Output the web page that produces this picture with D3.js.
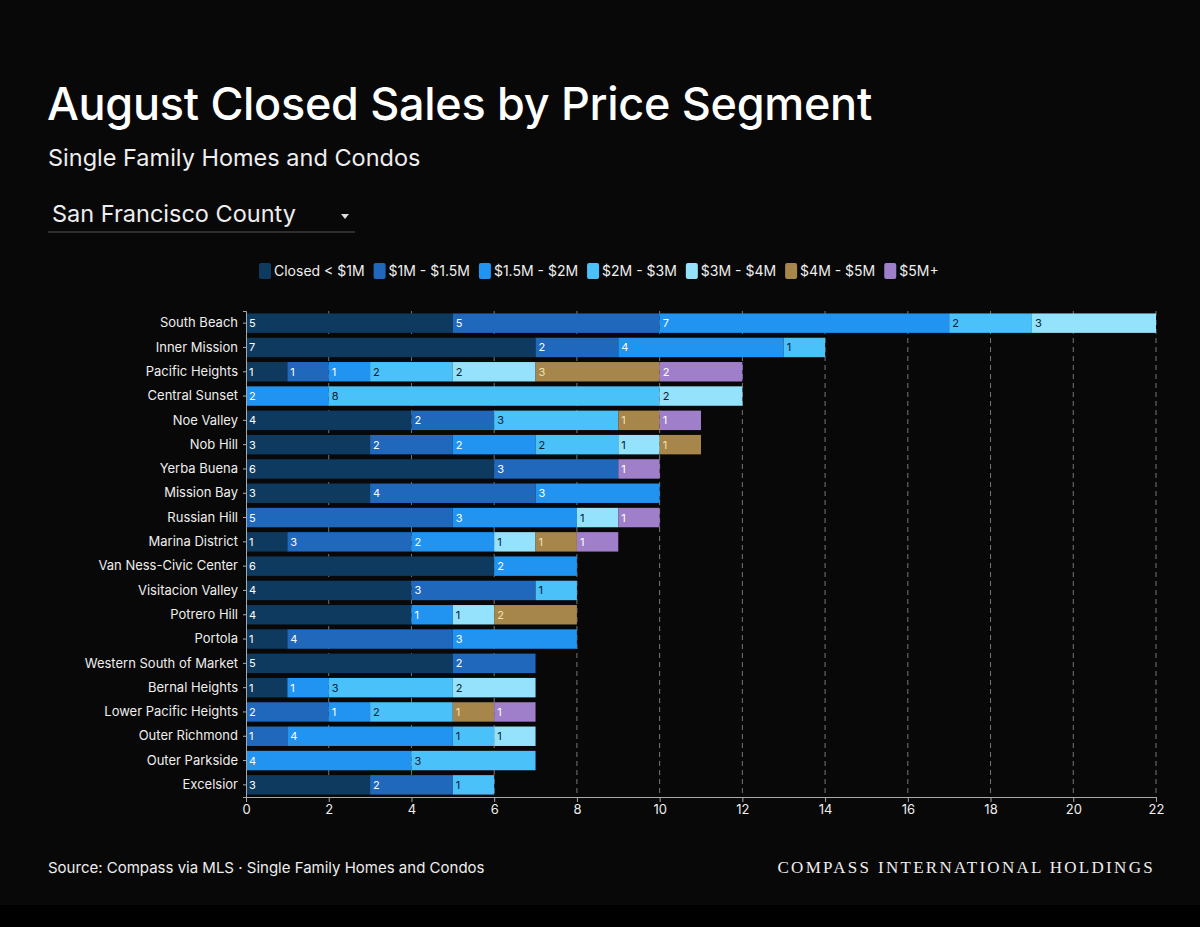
<!DOCTYPE html>
<html><head><meta charset="utf-8">
<script src="https://cdn.jsdelivr.net/npm/d3@7"></script>
<style>body{margin:0;background:#070707;}svg{display:block;font-family:Inter,'Noto Sans',sans-serif;}</style>
</head><body><svg id="c" width="1200" height="927"></svg>
<script>
const segments=["Closed < $1M","$1M - $1.5M","$1.5M - $2M","$2M - $3M","$3M - $4M","$4M - $5M","$5M+"];
const colors=["#0e3a5f","#1f68bb","#2193f0","#4bc1fa","#94e2fb","#a6864a","#a07fca"];
const neighborhoods=["South Beach","Inner Mission","Pacific Heights","Central Sunset","Noe Valley","Nob Hill","Yerba Buena","Mission Bay","Russian Hill","Marina District","Van Ness-Civic Center","Visitacion Valley","Potrero Hill","Portola","Western South of Market","Bernal Heights","Lower Pacific Heights","Outer Richmond","Outer Parkside","Excelsior"];
// values per segment, in neighborhood order
const closedUnder1M=[5,7,1,0,4,3,6,3,0,1,6,4,4,1,5,1,0,0,0,3];
const s1to15M=[5,2,1,0,2,2,3,4,5,3,0,3,0,4,2,0,2,1,0,2];
const s15to2M=[7,4,1,2,0,2,0,3,3,2,2,0,1,3,0,1,1,4,4,0];
const s2to3M=[2,1,2,8,3,2,0,0,0,0,0,1,0,0,0,3,2,1,3,1];
const s3to4M=[3,0,2,2,0,1,0,0,1,1,0,0,1,0,0,2,0,1,0,0];
const s4to5M=[0,0,3,0,1,1,0,0,0,1,0,0,2,0,0,0,1,0,0,0];
const s5Mplus=[0,0,2,0,1,0,1,0,1,1,0,0,0,0,0,0,1,0,0,0];
const xTicks=[0,2,4,6,8,10,12,14,16,18,20,22];
const series=[closedUnder1M,s1to15M,s15to2M,s2to3M,s3to4M,s4to5M,s5Mplus];

const svg=d3.select("#c");
svg.append("rect").attr("width",1200).attr("height",927).attr("fill","#080808");
svg.append("rect").attr("y",905).attr("width",1200).attr("height",22).attr("fill","#000");
svg.append("text").attr("x",47).attr("y",120).attr("fill","#fff").attr("font-size",45).attr("font-weight",500).attr("letter-spacing",-0.3).text("August Closed Sales by Price Segment");
svg.append("text").attr("x",48).attr("y",166).attr("fill","#eee").attr("font-size",23.5).text("Single Family Homes and Condos");
svg.append("text").attr("x",52).attr("y",222).attr("fill","#eee").attr("font-size",23.5).text("San Francisco County");
svg.append("line").attr("x1",48).attr("x2",355).attr("y1",232).attr("y2",232).attr("stroke","#555");
svg.append("path").attr("d","M341,214 L349,214 L345,219 Z").attr("fill","#ddd");

// legend
const lg=svg.append("g").attr("transform","translate(259,271)");
let lx=0;
segments.forEach((s,i)=>{
  const g=lg.append("g").attr("transform",`translate(${lx},0)`);
  g.append("rect").attr("x",0).attr("y",-8).attr("width",12).attr("height",16).attr("rx",2).attr("fill",colors[i]);
  const t=g.append("text").attr("x",15).attr("y",5).attr("fill","#eee").attr("font-size",14).text(s);
  lx+=15+t.node().getComputedTextLength()+9;
});

const x=d3.scaleLinear().domain([0,22]).range([246,1156]);
const y=d3.scaleBand().domain(neighborhoods).range([311,797]).paddingInner(0.2).paddingOuter(0.1);

// grid
svg.append("g").selectAll("line").data(xTicks.filter(d=>d>0)).join("line")
  .attr("x1",d=>x(d)).attr("x2",d=>x(d)).attr("y1",311).attr("y2",797)
  .attr("stroke","#777").attr("stroke-dasharray","5,4");

const rows=neighborhoods.map((n,i)=>{let c=0;return series.map((s,k)=>{const r={n,k,v:s[i],x0:c};c+=s[i];return r;}).filter(d=>d.v>0);}).flat();
const bars=svg.append("g");
bars.selectAll("rect").data(rows).join("rect")
  .attr("x",d=>x(d.x0)).attr("width",d=>x(d.x0+d.v)-x(d.x0)).attr("y",d=>y(d.n)).attr("height",y.bandwidth())
  .attr("fill",d=>colors[d.k]);
bars.selectAll("text").data(rows).join("text")
  .attr("x",d=>x(d.x0)+3).attr("y",d=>y(d.n)+y.bandwidth()/2+4).attr("font-size",11)
  .attr("fill",d=>d.k==3||d.k==4?"#0b2033":(d.k==5?"#f3e2b0":"#fff")).text(d=>d.v);

const xa=svg.append("g").attr("transform","translate(0,797)").call(d3.axisBottom(x).tickValues(xTicks).tickSize(5));
xa.select(".domain").attr("stroke","#aaa");
xa.selectAll("line").attr("stroke","#aaa");
xa.selectAll("text").attr("fill","#eee").attr("font-size",13).attr("font-family","Inter,sans-serif");
const ya=svg.append("g").attr("transform","translate(246,0)").call(d3.axisLeft(y).tickSize(3).tickPadding(5));
ya.select(".domain").attr("stroke","#aaa");
ya.selectAll("line").attr("stroke","#aaa");
ya.selectAll("text").attr("fill","#eee").attr("font-size",13).attr("font-family","Inter,sans-serif");

svg.append("text").attr("x",48).attr("y",873).attr("fill","#eee").attr("font-size",15).text("Source: Compass via MLS · Single Family Homes and Condos");
svg.append("text").attr("x",1155).attr("y",873).attr("text-anchor","end").attr("fill","#eee").attr("font-size",17).attr("letter-spacing",2.3).attr("font-family","'Liberation Serif','DejaVu Serif',serif").text("COMPASS INTERNATIONAL HOLDINGS");
</script></body></html>
